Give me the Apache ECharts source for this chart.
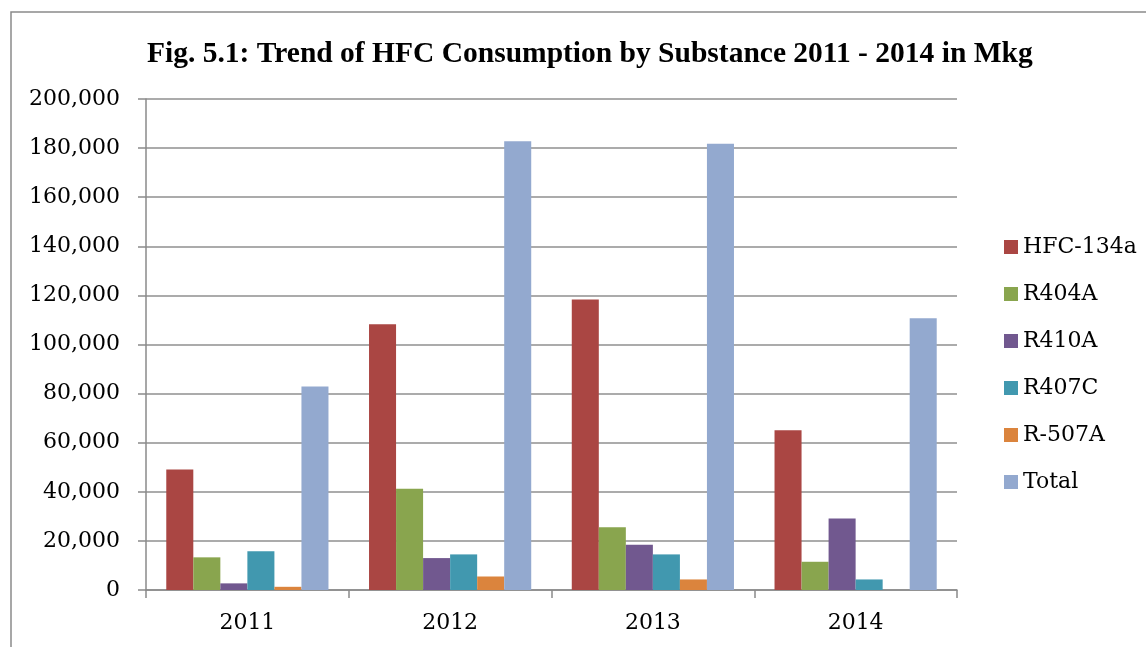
<!DOCTYPE html>
<html>
<head>
<meta charset="utf-8">
<script src="https://cdn.jsdelivr.net/npm/echarts@6/dist/echarts.min.js"></script>
<style>
html,body{margin:0;padding:0;background:#fff;}
#chart{width:1146px;height:647px;}
</style>
</head>
<body>
<div id="chart"></div>
<script>
var categories = ['2011', '2012', '2013', '2014'];
var seriesNames = ['HFC-134a', 'R404A', 'R410A', 'R407C', 'R-507A', 'Total'];
var hfc134a = [49100, 108200, 118300, 65100];
var r404a = [13300, 41200, 25600, 11500];
var r410a = [2700, 13000, 18400, 29100];
var r407c = [15800, 14500, 14500, 4300];
var r507a = [1300, 5500, 4300, 0];
var total = [82900, 182800, 181800, 110700];
var colors = ['#AA4643', '#89A54E', '#71588F', '#4198AF', '#DB843D', '#93A9CF'];
var titleText = 'Fig. 5.1: Trend of HFC Consumption by Substance 2011 - 2014 in Mkg';

var values = [hfc134a, r404a, r410a, r407c, r507a, total];
var labelFont = 'DejaVu Serif';

var chart = echarts.init(document.getElementById('chart'));
chart.setOption({
  animation: false,
  backgroundColor: '#fff',
  color: colors,
  title: {
    text: titleText,
    left: 142,
    top: 35,
    textStyle: { fontFamily: 'Liberation Serif', fontWeight: 'bold', fontSize: 29.5, color: '#000', lineHeight: 29 }
  },
  graphic: [{
    type: 'rect',
    shape: { x: 11, y: 12, width: 1200, height: 700 },
    style: { fill: 'none', stroke: '#8a8a8a', lineWidth: 1.5 },
    silent: true
  }],
  legend: {
    orient: 'vertical',
    left: 999,
    top: 231,
    itemWidth: 14,
    itemHeight: 14,
    itemGap: 25,
    icon: 'rect',
    data: seriesNames,
    textStyle: { fontFamily: labelFont, fontSize: 22, color: '#000', lineHeight: 22 }
  },
  grid: { left: 146, top: 99, width: 811, height: 491, containLabel: false },
  xAxis: {
    type: 'category',
    data: categories,
    axisLine: { lineStyle: { color: '#8a8a8a', width: 1.5 } },
    axisTick: { show: true, length: 8, lineStyle: { color: '#8a8a8a', width: 1.5 } },
    axisLabel: { fontFamily: labelFont, fontSize: 22, color: '#000', margin: 22 },
    splitLine: { show: false }
  },
  yAxis: {
    type: 'value',
    min: 0,
    max: 200000,
    interval: 20000,
    axisLine: { show: true, lineStyle: { color: '#8a8a8a', width: 1.5 } },
    axisTick: { show: true, length: 8, lineStyle: { color: '#8a8a8a', width: 1.5 } },
    axisLabel: {
      fontFamily: labelFont, fontSize: 22, color: '#000', margin: 26,
      formatter: function (v) { return v.toLocaleString('en-US'); }
    },
    splitLine: { show: true, lineStyle: { color: '#8f8f8f', width: 1.5 } }
  },
  series: seriesNames.map(function (name, i) {
    return {
      name: name,
      type: 'bar',
      data: values[i],
      barGap: 0,
      barCategoryGap: '20%',
      itemStyle: { color: colors[i] }
    };
  })
});
</script>
</body>
</html>
